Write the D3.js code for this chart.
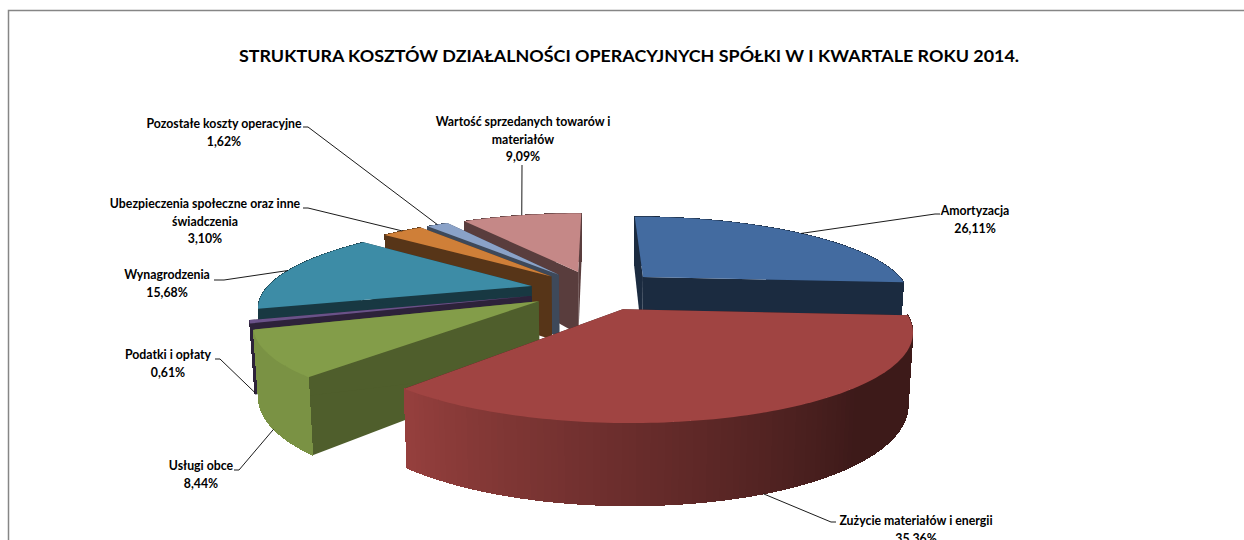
<!DOCTYPE html>
<html>
<head>
<meta charset="utf-8">
<script src="https://d3js.org/d3.v7.min.js"></script>
<style>
    html, body { margin: 0; padding: 0; background: #fff; overflow: hidden; }
    text { font-family: Lato, "Noto Sans", sans-serif; font-weight: 700; fill: #000; }
</style>
</head>
<body>
<div id="chart"></div>
<script>
const chartTitle = 'STRUKTURA KOSZTÓW DZIAŁALNOŚCI OPERACYJNYCH SPÓŁKI W I KWARTALE ROKU 2014.';

// values as printed on the chart, clockwise from 12 o'clock
const categories = ['Amortyzacja', 'Zużycie materiałów i energii', 'Usługi obce', 'Podatki i opłaty',
    'Wynagrodzenia', 'Ubezpieczenia społeczne oraz inne świadczenia', 'Pozostałe koszty operacyjne',
    'Wartość sprzedanych towarów i materiałów'];
const shares = [26.11, 35.36, 8.44, 0.61, 15.68, 3.10, 1.62, 9.09];
const shareLabels = ['26,11%', '35,36%', '8,44%', '0,61%', '15,68%', '3,10%', '1,62%', '9,09%'];

// label text is wrapped by hand, same as in the source chart
const labelLines = [['Amortyzacja'], ['Zużycie materiałów i energii'], ['Usługi obce'], ['Podatki i opłaty'],
    ['Wynagrodzenia'], ['Ubezpieczenia społeczne oraz inne', 'świadczenia'], ['Pozostałe koszty operacyjne'],
    ['Wartość sprzedanych towarów i', 'materiałów']];

const topColors = ['#436ba0', '#a04442', '#839d49', '#6a5289', '#3d8ca6', '#cf7f38', '#8aa2c8', '#c58887'];
const wallShade = [0.4, 0.4, 0.6, 0.42, 0.4, 0.42, 0.45, 0.45];
const rimLit = [false, true, true, false, false, false, false, false];

// label anchor [x center, first baseline], leader start next to the text and its short stub
const labelPos = [[975, 215], [916, 525], [201, 470], [168, 359], [167, 279], [205, 208], [224, 128], [523, 126]];
const leaderStart = [[940, 214], [836, 522], [234, 470], [215, 359], [214, 280], [303, 208], [303, 127], [522, 165]];
const leaderStub = [-5, -5, 5, 5, 10, 5, 5, 0];

const width = 1244, height = 540;
const cx = 596, cy = 290;       // pie centre on screen
const radius = 266.5;           // disk radius in x pixels
const tiltY = 78.8;             // vertical squash of the disk
const persp = 0.22;             // how fast things grow towards the viewer
const explode = 0.25;           // slice pull-out, in radii

const svg = d3.select('#chart').append('svg')
    .attr('width', width).attr('height', height)
    .style('display', 'block');

// frame of the chart area, cropped by the screenshot on the right and bottom
svg.append('path')
    .attr('d', `M8.5,${height}V10.5H${width}`)
    .attr('fill', 'none').attr('stroke', '#868686').attr('stroke-width', 1.5);

svg.append('text')
    .attr('x', 629).attr('y', 62)
    .attr('text-anchor', 'middle')
    .style('font-size', '17.9px')
    .text(chartTitle);

const pie = d3.pie().sort(null).value(d => d);
const arcs = pie(shares).map((a, i) => ({ ...a, i, mid: (a.startAngle + a.endAngle) / 2 }));

// point on a slice: r radii out from the slice's apex at angle t, depth 0 or 1
function project(arc, t, r, bottom) {
    let u = explode * Math.sin(arc.mid) + r * Math.sin(t),
        v = -explode * Math.cos(arc.mid) - r * Math.cos(t);
    let s = 1 / (1 - persp * v);
    let x = cx + radius * u * s,
        y = cy + tiltY * v * s;
    if (bottom) {
        x = cx + (x - cx) * 0.985;
        y += 65.5 + 14 * v;
    }
    return [x, y];
}

function anglesOf(arc) {
    return d3.range(0, 1.0001, 1 / Math.max(2, Math.ceil((arc.endAngle - arc.startAngle) / 0.02)))
        .map(f => arc.startAngle + f * (arc.endAngle - arc.startAngle));
}

function shade(color, f) {
    return d3.interpolateRgb('#000', color)(f);
}

// lit from the left, darkest on the right hand side
function rimShade(arc, t) {
    if (!rimLit[arc.i]) return wallShade[arc.i];
    return 0.38 + 0.55 * Math.max(0, Math.min(1, (t - 2.4) / 1.45));
}

// painter's order, back slices first
const drawOrder = [7, 6, 5, 4, 3, 2, 0, 1];
const line = d3.line();

drawOrder.forEach(i => {
    const arc = arcs[i], color = topColors[i];
    const g = svg.append('g').attr('class', 'slice');
    const ts = anglesOf(arc);

    // the two radial walls
    [arc.startAngle, arc.endAngle].forEach(t => {
        g.append('path')
            .attr('d', line([project(arc, t, 0, 0), project(arc, t, 1, 0), project(arc, t, 1, 1), project(arc, t, 0, 1)]) + 'Z')
            .attr('fill', shade(color, wallShade[i]));
    });

    // outer wall as thin facets, crisp so no light seams show between them
    d3.pairs(ts).forEach(([a, b]) => {
        const f = shade(color, rimShade(arc, (a + b) / 2));
        g.append('path')
            .attr('d', line([project(arc, a, 1, 0), project(arc, b, 1, 0), project(arc, b, 1, 1), project(arc, a, 1, 1)]) + 'Z')
            .attr('fill', f).attr('stroke', f).attr('stroke-width', 1)
            .attr('shape-rendering', 'crispEdges');
    });

    // top face
    g.append('path')
        .attr('d', line([project(arc, 0, 0, 0), ...ts.map(t => project(arc, t, 1, 0))]) + 'Z')
        .attr('fill', color);
});

// leaders, front slices connect at the foot of the wall
const leaders = svg.append('g');
arcs.forEach(arc => {
    const front = Math.cos(arc.mid) < 0;
    const end = project(arc, arc.mid, 1, front ? 1 : 0);
    const start = leaderStart[arc.i];
    leaders.append('path')
        .attr('d', line([start, [start[0] + leaderStub[arc.i], start[1]], end]))
        .attr('fill', 'none').attr('stroke', '#000').attr('stroke-width', 0.9);
});

const labels = svg.selectAll('.label').data(arcs).join('text')
    .attr('class', 'label')
    .attr('text-anchor', 'middle')
    .style('font-size', '12.3px');
labels.selectAll('tspan')
    .data(d => [...labelLines[d.i], shareLabels[d.i]].map(s => ({ s, i: d.i })))
    .join('tspan')
    .attr('x', d => labelPos[d.i][0])
    .attr('y', (d, j) => labelPos[d.i][1] + j * 17.5)
    .text(d => d.s);
</script>
</body>
</html>
